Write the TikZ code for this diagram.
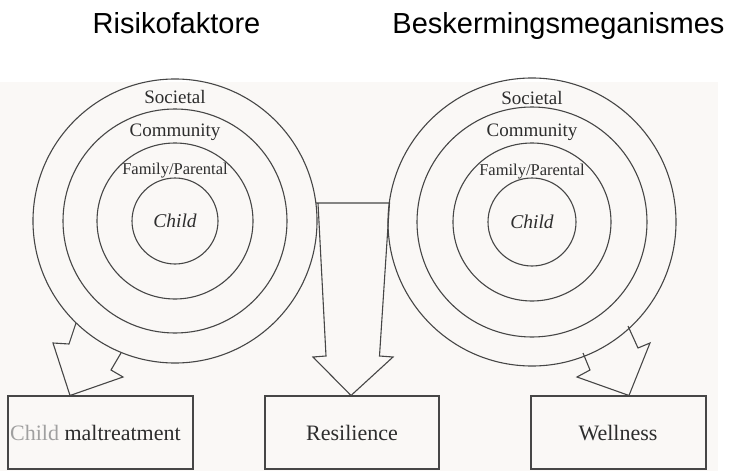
\documentclass[tikz,border=0pt]{standalone}
\usepackage{fontspec}
\setmainfont{Liberation Serif}
\newfontfamily\headfont{Liberation Sans}
\definecolor{ink}{RGB}{70,70,70}
\definecolor{txt}{RGB}{45,45,45}
\definecolor{paper}{RGB}{250,248,246}
\tikzset{
  ring/.style={circle, draw=ink, line width=1.1pt, inner sep=0pt, outer sep=0pt},
  outbox/.style={draw=ink, line width=1.1pt, inner sep=0pt, outer sep=0pt},
  bigarrow/.style={draw=ink, line width=1.1pt, line join=miter},
  head/.style={font=\headfont\fontsize{29}{32}\selectfont, text=black, anchor=base, inner sep=0pt},
  ringlab/.style={text=txt, inner sep=0pt},
  boxlab/.style={text=txt, font=\fontsize{22}{26}\selectfont, inner sep=0pt}
}
\begin{document}
\begin{tikzpicture}[x=1pt,y=-1pt]
\useasboundingbox (0,0) rectangle (732,471);
\fill[paper] (0,82) rectangle (718,471);

% headings
\node[head] (hL) at (176.5,33) {Risikofaktore};
\node[head] (hR) at (558.5,33) {Beskermingsmeganismes};

% left rings
\node[ring, minimum size=284pt] (LS) at (175,221) {};
\node[ring, minimum size=224pt] (LC) at (175,221) {};
\node[ring, minimum size=156pt] (LF) at (175,221) {};
\node[ring, minimum size=86pt]  (LK) at (175,221) {};
\node[ringlab, font=\fontsize{19}{22}\selectfont] (tLS) at (175,97) {Societal};
\node[ringlab, font=\fontsize{19}{22}\selectfont] (tLC) at (175,132) {Community};
\node[ringlab, font=\fontsize{16.5}{19}\selectfont] (tLF) at (175,171) {Family/Parental};
\node[ringlab, font=\itshape\fontsize{19.5}{22}\selectfont] (tLK) at (175,221) {Child};

% right rings
\node[ring, minimum size=288pt] (RS) at (532,222) {};
\node[ring, minimum size=230pt] (RC) at (532,222) {};
\node[ring, minimum size=158pt] (RF) at (532,222) {};
\node[ring, minimum size=88pt]  (RK) at (532,222) {};
\node[ringlab, font=\fontsize{19}{22}\selectfont] (tRS) at (532,98) {Societal};
\node[ringlab, font=\fontsize{19}{22}\selectfont] (tRC) at (532,132) {Community};
\node[ringlab, font=\fontsize{16.5}{19}\selectfont] (tRF) at (532,172) {Family/Parental};
\node[ringlab, font=\itshape\fontsize{19.5}{22}\selectfont] (tRK) at (532,222) {Child};

% boxes
\node[outbox, minimum width=185pt, minimum height=73pt] (bL) at (100.5,432.5) {};
\node[outbox, minimum width=174pt, minimum height=73pt] (bM) at (352,432.5) {};
\node[outbox, minimum width=175pt, minimum height=73pt] (bR) at (618.5,432.5) {};
\node[boxlab, anchor=west] (tbL) at (10,433) {\textcolor{txt!45}{Child} maltreatment};
\node[boxlab] (tbM) at (352,433) {Resilience};
\node[boxlab] (tbR) at (618,433) {Wellness};

% left arrow
\coordinate (la1) at (76,323);
\coordinate (la2) at (69,344);
\coordinate (la3) at (53,343);
\coordinate (la4) at (70,395.5);
\coordinate (la5) at (123,377);
\coordinate (la6) at (111,370);
\coordinate (la7) at (121,353);
\draw[bigarrow] (la1) -- (la2) -- (la3) -- (la4) -- (la5) -- (la6) -- (la7);

% middle arrow
\coordinate (ma0) at (316,203);
\coordinate (ma1) at (389.5,203);
\coordinate (ma2) at (379.5,356);
\coordinate (ma3) at (393,357);
\coordinate (ma4) at (351,395.5);
\coordinate (ma5) at (313,357);
\coordinate (ma6) at (326,356);
\coordinate (ma7) at (318,203);
\draw[bigarrow] (ma0) -- (ma1) -- (ma2) -- (ma3) -- (ma4) -- (ma5) -- (ma6) -- (ma7);

% right arrow
\coordinate (ra1) at (583,353);
\coordinate (ra2) at (590,370);
\coordinate (ra3) at (577,377);
\coordinate (ra4) at (629,395.5);
\coordinate (ra5) at (650,343);
\coordinate (ra6) at (638,348);
\coordinate (ra7) at (628,326);
\draw[bigarrow] (ra1) -- (ra2) -- (ra3) -- (ra4) -- (ra5) -- (ra6) -- (ra7);
\end{tikzpicture}
\end{document}
